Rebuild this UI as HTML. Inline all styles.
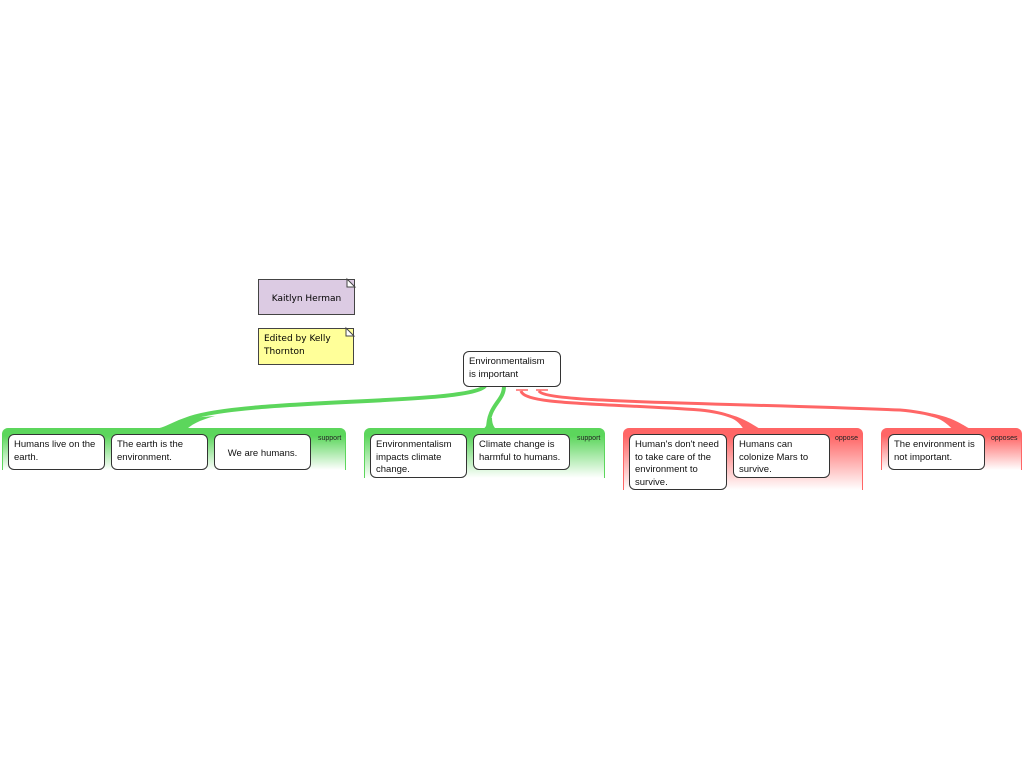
<!DOCTYPE html>
<html><head><style>
body{margin:0;width:1024px;height:768px;background:#fff;position:relative;overflow:hidden;font-family:"Liberation Sans",sans-serif;}
.g{position:absolute;border-radius:6px 6px 0 0;}
.gr{background:linear-gradient(#5cd65c 0,#5cd65c 8px,#fff 100%);border-left:1px solid #5cd65c;border-right:1px solid #5cd65c;}
.rd{background:linear-gradient(#f66 0,#f66 8px,#fff 100%);border-left:1px solid #f66;border-right:1px solid #f66;}
.n{position:absolute;background:#fff;border:1px solid #333;border-radius:6px;font-size:9.5px;line-height:12.5px;color:#111;padding:4px 5px;box-sizing:border-box;}
.lb{position:absolute;font-size:7px;color:#222;}
.note{position:absolute;border:1px solid #444;font-family:"Comic Sans MS","DejaVu Sans",sans-serif;font-size:9px;line-height:13px;box-sizing:border-box;}
</style></head><body>
<svg width="1024" height="768" style="position:absolute;left:0;top:0">
<path d="M485,386 C470,405 250,398 190,418 C172,424 168,428 160,430" stroke="#5cd65c" stroke-width="4" fill="none"/>
<path d="M190,418 C175,423 170,428 160,431 L185,431 C190,425 200,420 215,416 Z" fill="#5cd65c"/>
<path d="M504,386 C504,402 488,404 488,430" stroke="#5cd65c" stroke-width="4" fill="none"/>
<path d="M488,418 C488,426 484,429 480,431 L498,431 C494,428 492,424 492,418 Z" fill="#5cd65c"/>
<path d="M521,391 C525,405 600,403 700,410 C740,414 745,426 755,430" stroke="#f66" stroke-width="3" fill="none"/>
<path d="M715,412 C740,418 742,428 745,431 L765,431 C755,428 745,415 715,412 Z" fill="#f66"/>
<path d="M539,391 C545,403 700,402 900,410 C945,414 950,424 965,430" stroke="#f66" stroke-width="3" fill="none"/>
<path d="M920,412 C945,418 950,428 955,431 L975,431 C965,428 955,415 920,412 Z" fill="#f66"/>
<line x1="516" y1="390" x2="528" y2="390" stroke="#f66" stroke-width="1.5"/>
<line x1="536" y1="390" x2="548" y2="390" stroke="#f66" stroke-width="1.5"/>
</svg>
<div class="g gr" style="left:2px;top:428px;width:342px;height:42px"></div>
<div class="g gr" style="left:364px;top:428px;width:239px;height:50px"></div>
<div class="g rd" style="left:623px;top:428px;width:238px;height:62px"></div>
<div class="g rd" style="left:881px;top:428px;width:139px;height:42px"></div>
<div class="lb" style="left:318px;top:435px">support</div>
<div class="lb" style="left:577px;top:435px">support</div>
<div class="lb" style="left:835px;top:435px">oppose</div>
<div class="lb" style="left:991px;top:435px">opposes</div>
<div class="n" style="left:463px;top:351px;width:98px;height:36px">Environmentalism<br>is important</div>
<div class="n" style="left:8px;top:434px;width:97px;height:36px">Humans live on the earth.</div>
<div class="n" style="left:111px;top:434px;width:97px;height:36px">The earth is the environment.</div>
<div class="n" style="left:214px;top:434px;width:97px;height:36px;padding-top:13px;text-align:center">We are humans.</div>
<div class="n" style="left:370px;top:434px;width:97px;height:44px">Environmentalism impacts climate change.</div>
<div class="n" style="left:473px;top:434px;width:97px;height:36px">Climate change is harmful to humans.</div>
<div class="n" style="left:629px;top:434px;width:98px;height:56px">Human's don't need to take care of the environment to survive.</div>
<div class="n" style="left:733px;top:434px;width:97px;height:44px">Humans can colonize Mars to survive.</div>
<div class="n" style="left:888px;top:434px;width:97px;height:36px">The environment is not important.</div>
<div class="note" style="left:258px;top:279px;width:97px;height:36px;background:#dccbe3;text-align:center;padding-top:13px">Kaitlyn Herman</div>
<div class="note" style="left:258px;top:328px;width:96px;height:37px;background:#ffff99;padding:4px 5px">Edited by Kelly Thornton</div>
<svg width="1024" height="768" style="position:absolute;left:0;top:0">
<path d="M347,279 L355,287 L347,287 Z" fill="#fff" stroke="#444" stroke-width="1"/>
<path d="M346,328 L354,336 L346,336 Z" fill="#fff" stroke="#444" stroke-width="1"/>
</svg>
</body></html>
